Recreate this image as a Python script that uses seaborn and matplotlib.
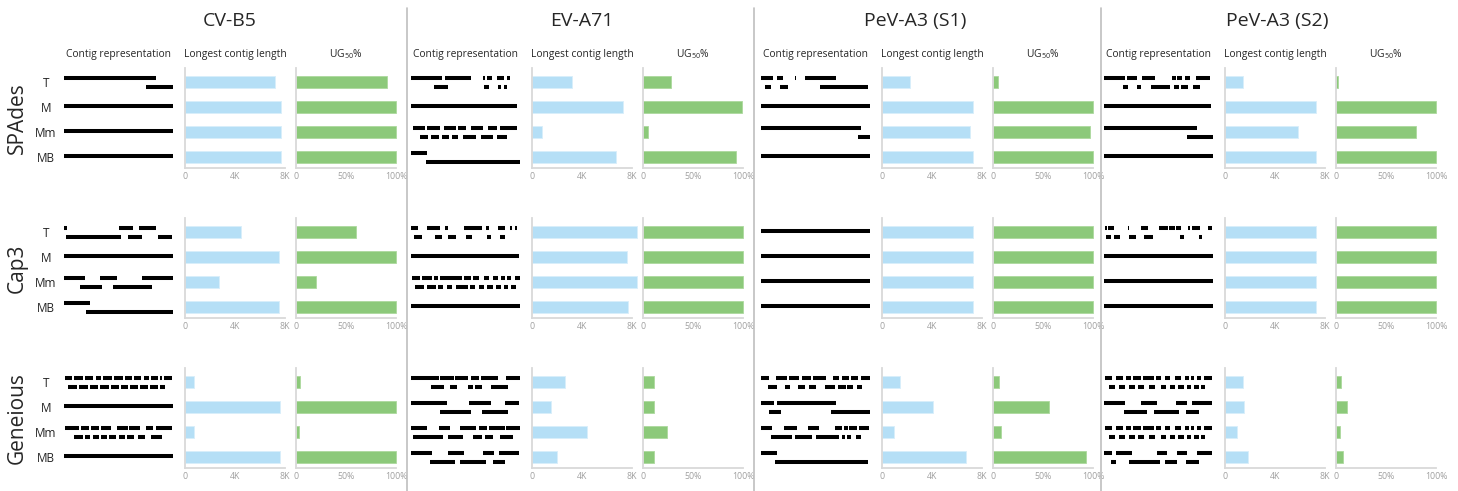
import matplotlib.pyplot as plt
from matplotlib.lines import Line2D
import seaborn as sns

sns.set_style("white")
plt.rcParams['font.family'] = ['Open Sans', 'DejaVu Sans']

viruses = ["CV-B5", "EV-A71", "PeV-A3 (S1)", "PeV-A3 (S2)"]
assemblers = ["SPAdes", "Cap3", "Geneious"]
categories = ["T", "M", "Mm", "MB"]

# longest contig length (bp) per virus, order T, M, Mm, MB
longest_spades = [[7190, 7650, 7650, 7650], [3170, 7270, 800, 6740],
                  [2230, 7270, 7060, 7270], [1470, 7250, 5870, 7250]]
longest_cap3 = [[4470, 7510, 2710, 7510], [8400, 7600, 8400, 7680],
                [7270, 7270, 7270, 7270], [7250, 7250, 7250, 7250]]
longest_geneious = [[730, 7590, 680, 7590], [2630, 1500, 4380, 1960],
                    [1420, 4050, 940, 6710], [1410, 1520, 990, 1870]]

# UG50 (%) per virus, order T, M, Mm, MB
ug50_spades = [[91, 100, 100, 100], [28, 99, 5, 93],
               [5, 100, 97, 100], [2, 100, 80, 100]]
ug50_cap3 = [[60, 100, 20, 100], [100, 100, 100, 100],
             [100, 100, 100, 100], [100, 100, 100, 100]]
ug50_geneious = [[4, 100, 3, 100], [11, 11, 24, 11],
                 [6, 56, 8, 93], [5, 11, 4, 7]]

# contigs along the genome (% of genome), per category: [upper row, lower row]
contigs_spades_cvb5 = [[[(0, 84.5)], [(75, 100)]], [[(0, 100)], []],
                       [[(0, 100)], []], [[(0, 100)], []]]
contigs_spades_ev71 = [
    [[(0, 28.6), (30.8, 55.4), (66, 68), (70, 74), (79, 85), (88, 91)],
     [(21.5, 33.8), (67, 72), (80, 83), (85, 88)]],
    [[(0, 97.5)], []],
    [[(2, 13), (15, 27), (30, 41), (43, 50), (55, 66), (71, 79), (82, 97)],
     [(8, 16), (18, 26), (28, 35), (38, 43), (48, 60), (64, 75), (79, 88)]],
    [[(0, 15)], [(14, 100)]]]
contigs_spades_s1 = [
    [[(0, 11), (15, 20), (31, 32), (40, 69)], [(4, 9), (17, 25), (54, 98)]],
    [[(0, 100)], []],
    [[(0, 91.5)], [(89, 100)]],
    [[(0, 100)], []]]
contigs_spades_s2 = [
    [[(0, 19), (21, 30), (35, 47), (62, 66), (67, 72), (74, 79), (84, 97)],
     [(17, 22), (30, 34), (43, 61), (64, 69), (71, 77), (82, 88)]],
    [[(0, 98)], []],
    [[(0, 85)], [(76, 100)]],
    [[(0, 100)], []]]

contigs_cap3_cvb5 = [
    [[(0, 3), (50.6, 63.3), (68.7, 84.3)], [(2, 52.7), (58.7, 71.4), (86, 98.8)]],
    [[(0, 100)], []],
    [[(0, 19.3), (33.1, 48.2), (71.7, 100)], [(15, 35.2), (44.6, 80.7)]],
    [[(0, 24)], [(20, 100)]]]
contigs_cap3_ev71 = [
    [[(0, 6), (15, 27), (31, 34), (49, 65), (69, 72), (80, 86), (91, 93), (95, 97)],
     [(3, 10), (22, 28), (34, 41), (50, 56), (70, 73), (82, 86)]],
    [[(0, 99)], []],
    [[(1, 8), (10, 19), (21, 25), (27, 47), (49, 55), (57, 62), (67, 72), (75, 80),
      (83, 86), (88, 92), (95, 100)],
     [(4, 12), (15, 23), (25, 29), (33, 38), (41, 52), (54, 59), (62, 67), (70, 75),
      (78, 83), (85, 89), (92, 96)]],
    [[(0, 100)], []]]
contigs_cap3_s1 = [[[(0, 100)], []], [[(0, 100)], []],
                   [[(0, 100)], []], [[(0, 100)], []]]
contigs_cap3_s2 = [
    [[(1, 3), (4, 9), (22, 23), (34, 40), (50, 59), (60, 65), (66, 71), (77, 79),
      (81, 88), (95, 99)],
     [(2, 6), (9, 15), (23, 29), (37, 45), (70, 73), (87, 90)]],
    [[(0, 100)], []],
    [[(0, 100)], []],
    [[(0, 100)], []]]

contigs_geneious_cvb5 = [
    [[(1, 7), (9, 17), (19, 27), (29, 34), (36, 44), (46, 54), (56, 62), (64, 71),
      (73, 78), (80, 86), (88, 90), (92, 99)],
     [(4, 12), (14, 22), (24, 31), (33, 41), (43, 50), (52, 59), (61, 68), (70, 77),
      (79, 86), (88, 93)]],
    [[(0, 100)], []],
    [[(1, 14), (16, 23), (25, 32), (34, 43), (49, 59), (60, 70), (75, 82), (84, 99)],
     [(9, 17), (19, 24), (27, 32), (34, 39), (41, 48), (50, 56), (58, 64), (68, 74),
      (80, 90)]],
    [[(0, 100)], []]]
contigs_geneious_ev71 = [
    [[(0, 26), (27, 39), (40, 52), (55, 62), (64, 80), (87, 100)],
     [(18, 30), (36, 42), (52, 57), (59, 65), (73, 89)]],
    [[(0, 33), (53, 73), (86, 99)], [(27, 55), (65, 89)]],
    [[(0, 15), (26, 36), (45, 60), (62, 70), (72, 86), (87, 100)],
     [(2, 29), (34, 48), (57, 65), (68, 75), (82, 94)]],
    [[(0, 19), (34, 49), (66, 76), (81, 99)], [(17, 40), (45, 69), (75, 86)]]]
contigs_geneious_s1 = [
    [[(0, 7), (14, 24), (26, 35), (38, 46), (48, 60), (66, 72), (74, 81), (83, 89),
      (92, 100)],
     [(6, 15), (22, 27), (34, 40), (44, 50), (59, 68), (71, 78), (79, 84), (88, 93)]],
    [[(0, 12), (15, 69)], [(7, 18), (64, 100)]],
    [[(0, 10), (21, 33), (43, 53), (68, 74), (76, 80), (81, 88), (90, 99)],
     [(9, 28), (31, 47), (50, 72), (74, 77), (79, 83), (87, 92)]],
    [[(0, 15)], [(13, 98)]]]
contigs_geneious_s2 = [
    [[(1, 7), (11, 17), (20, 25), (27, 34), (36, 46), (48, 52), (56, 61), (65, 71),
      (74, 78), (80, 83), (85, 89), (92, 99)],
     [(5, 10), (14, 19), (23, 28), (31, 37), (41, 47), (52, 57), (61, 65), (68, 73),
      (76, 80), (83, 87), (89, 93)]],
    [[(0, 19), (34, 49), (66, 76), (81, 99)], [(18, 39), (46, 69), (75, 87)]],
    [[(1, 7), (11, 17), (20, 25), (27, 34), (36, 46), (48, 52), (56, 61), (65, 71),
      (74, 78), (80, 83), (85, 89), (92, 99)],
     [(5, 10), (14, 19), (23, 28), (31, 37), (41, 47), (52, 57), (61, 65), (68, 73),
      (76, 80), (83, 87), (89, 93)]],
    [[(0, 7), (11, 26), (49, 58), (67, 76), (85, 99)],
     [(6, 11), (23, 51), (56, 67), (75, 87)]]]

longest = [longest_spades, longest_cap3, longest_geneious]
ug50 = [ug50_spades, ug50_cap3, ug50_geneious]
contigs = [
    [contigs_spades_cvb5, contigs_spades_ev71, contigs_spades_s1, contigs_spades_s2],
    [contigs_cap3_cvb5, contigs_cap3_ev71, contigs_cap3_s1, contigs_cap3_s2],
    [contigs_geneious_cvb5, contigs_geneious_ev71, contigs_geneious_s1, contigs_geneious_s2],
]

BLUE = "#b5dff6"
GREEN = "#8cc97a"
SPINE = "#d9d9d9"
TICK = "#a0a0a0"

W, H = 1458, 491
fig = plt.figure(figsize=(W / 100, H / 100), dpi=100)


def add_ax(x, y, w, h):
    return fig.add_axes([x / W, 1 - (y + h) / H, w / W, h / H])


col_left = [185, 532, 882, 1225]
row_top = [68, 218, 368]
title_x = [230, 582, 915, 1277]
YLIM = (3.44, -0.56)


def style_bars(ax, ticks, labels):
    ax.set_ylim(*YLIM)
    ax.set_xticks(ticks)
    ax.set_xticklabels(labels)
    ax.set_yticks([])
    ax.set_xlabel("")
    ax.set_ylabel("")
    for s in ["top", "right"]:
        ax.spines[s].set_visible(False)
    for s in ["left", "bottom"]:
        ax.spines[s].set_color(SPINE)
        ax.spines[s].set_linewidth(1.3)
    ax.tick_params(axis="x", length=0, pad=3, labelsize=6.3, labelcolor=TICK)
    for p in ax.patches:
        p.set_clip_on(False)


for r, asm in enumerate(assemblers):
    top = row_top[r]
    for c, virus in enumerate(viruses):
        L = col_left[c]

        # contig representation
        ax = add_ax(L - 121, top, 109, 100)
        for k, (upper, lower) in enumerate(contigs[r][c]):
            if lower:
                rows = [(upper, k - 0.17), (lower, k + 0.19)]
            else:
                rows = [(upper, k - 0.03)]
            for segs, yy in rows:
                ax.hlines([yy] * len(segs), [s[0] for s in segs], [s[1] for s in segs],
                          color="black", lw=2.9, capstyle="butt")
        ax.set_xlim(0, 100)
        ax.set_ylim(*YLIM)
        ax.set_xticks([])
        for s in ax.spines.values():
            s.set_visible(False)
        if c == 0:
            ax.set_yticks(range(4))
            ax.set_yticklabels(categories, ha="center", fontsize=8.5, color="#222222")
            ax.tick_params(axis="y", length=0, pad=13)
        else:
            ax.set_yticks([])
        if r == 0:
            ax.set_title("Contig representation", fontsize=7.4, pad=8)

        # longest contig length
        ax = add_ax(L, top, 100, 100)
        sns.barplot(x=longest[r][c], y=categories, orient="h", color=BLUE,
                    saturation=1, width=0.5, ax=ax, edgecolor="#d8eefa", linewidth=0.6)
        ax.set_xlim(0, 8000)
        style_bars(ax, [0, 4000, 8000], ["0", "4K", "8K"])
        if r == 0:
            ax.set_title("Longest contig length", fontsize=7.4, pad=8)

        # UG50
        ax = add_ax(L + 111, top, 100, 100)
        sns.barplot(x=ug50[r][c], y=categories, orient="h", color=GREEN,
                    saturation=1, width=0.5, ax=ax, edgecolor="#acd99e", linewidth=0.6)
        ax.set_xlim(0, 100)
        style_bars(ax, [0, 50, 100], ["0", "50%", "100%"])
        if r == 0:
            ax.set_title(r"UG$_{\mathregular{50}}$%", fontsize=7.4, pad=8)

    fig.text(17 / W, 1 - (top + 50) / H, asm, rotation=90, fontsize=15,
             ha="center", va="center")

for c, virus in enumerate(viruses):
    fig.text(title_x[c] / W, 1 - 21 / H, virus, fontsize=14, ha="center", va="center")

for x in [407, 754, 1101]:
    fig.add_artist(Line2D([x / W, x / W], [0, 1 - 8 / H], color="#bfbfbf", lw=1.2))

fig.savefig("out.png", dpi=100)
